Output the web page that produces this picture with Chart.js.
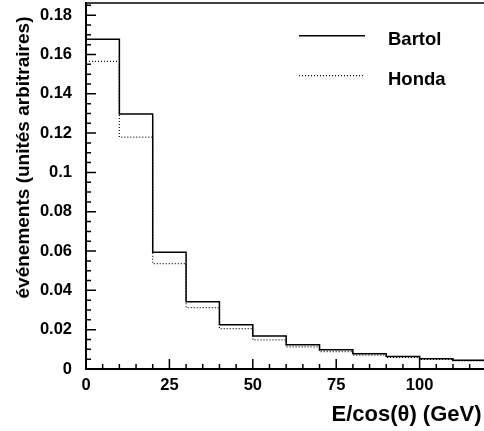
<!DOCTYPE html>
<html>
<head>
<meta charset="utf-8">
<script src="https://cdn.jsdelivr.net/npm/chart.js@4/dist/chart.umd.min.js"></script>
<style>
  html, body { margin: 0; padding: 0; background: #fff; overflow: hidden; }
</style>
</head>
<body>
<canvas id="histo" width="484" height="431"></canvas>
<script>
// bin edges (GeV) and contents of the two histograms
const binEdges = [0, 10, 20, 30, 40, 50, 60, 70, 80, 90, 100, 110, 120];
const bartol = [0.1677, 0.1297, 0.0594, 0.0342, 0.0225, 0.0168, 0.0124, 0.0098, 0.0078, 0.0064, 0.0052, 0.0044];
const honda  = [0.1565, 0.1180, 0.0536, 0.0312, 0.0205, 0.0148, 0.0113, 0.0088, 0.0071, 0.0059, 0.0049, 0.0041];
const xTickLabels = [0, 25, 50, 75, 100];
const yTickLabels = [0, 0.02, 0.04, 0.06, 0.08, 0.1, 0.12, 0.14, 0.16, 0.18];
const seriesNames = ['Bartol', 'Honda'];

const FONT = '"Liberation Sans", Arial, Helvetica, sans-serif';
Chart.defaults.font.family = FONT;
Chart.defaults.color = '#000';

function toSteps(vals) {
  const pts = vals.map((v, i) => ({ x: binEdges[i], y: v }));
  pts.push({ x: binEdges[binEdges.length - 1], y: vals[vals.length - 1] });
  return pts;
}

function noPad(s) {
  s.paddingTop = 0; s.paddingBottom = 0; s.paddingLeft = 0; s.paddingRight = 0;
}

// inward tick marks, top frame line, legend and axis titles
const decor = {
  id: 'decor',
  afterDraw(chart) {
    const ctx = chart.ctx;
    const a = chart.chartArea;
    const xs = chart.scales.x, ys = chart.scales.y;
    ctx.save();
    ctx.strokeStyle = '#000';
    ctx.lineWidth = 1.5;
    ctx.beginPath();
    for (let v = 0; v <= xs.max + 0.001; v += 5) {
      const px = xs.getPixelForValue(v);
      const len = v % 25 === 0 ? 10 : 5;
      ctx.moveTo(px, a.bottom);
      ctx.lineTo(px, a.bottom - len);
    }
    for (let k = 0; k * 0.005 <= ys.max + 1e-9; k++) {
      const py = ys.getPixelForValue(k * 0.005);
      const len = k % 4 === 0 ? 10 : 5;
      ctx.moveTo(a.left, py);
      ctx.lineTo(a.left + len, py);
    }
    ctx.stroke();
    // top frame
    ctx.beginPath();
    ctx.moveTo(a.left, a.top);
    ctx.lineTo(a.right, a.top);
    ctx.stroke();

    // legend
    chart.data.datasets.forEach((ds, i) => {
      const y = 35.7 + i * 40;
      ctx.save();
      ctx.strokeStyle = ds.borderColor;
      ctx.lineWidth = ds.borderWidth;
      ctx.setLineDash(ds.borderDash || []);
      ctx.beginPath();
      ctx.moveTo(299, y);
      ctx.lineTo(365, y);
      ctx.stroke();
      ctx.restore();
      ctx.fillStyle = '#000';
      ctx.font = 'bold 18.5px ' + FONT;
      ctx.textAlign = 'left';
      ctx.textBaseline = 'middle';
      ctx.fillText(ds.label, 388, y + 4);
    });

    // x title
    ctx.font = 'bold 22px ' + FONT;
    ctx.textAlign = 'right';
    ctx.textBaseline = 'middle';
    ctx.fillText('E/cos(θ) (GeV)', 481.5, 415);

    // y title
    ctx.translate(24, 157.5);
    ctx.rotate(-Math.PI / 2);
    ctx.font = 'bold 19px ' + FONT;
    ctx.textAlign = 'center';
    ctx.fillText('événements (unités arbitraires)', 0, 0);
    ctx.restore();
  }
};

new Chart(document.getElementById('histo'), {
  type: 'line',
  data: {
    datasets: [{
      label: seriesNames[0],
      data: toSteps(bartol),
      stepped: true,
      borderColor: '#000',
      borderWidth: 1.5,
      pointRadius: 0,
      fill: false
    }, {
      label: seriesNames[1],
      data: toSteps(honda),
      stepped: true,
      borderColor: '#111',
      borderWidth: 1.2,
      borderDash: [1, 2],
      pointRadius: 0,
      fill: false
    }]
  },
  options: {
    responsive: false,
    animation: false,
    layout: { padding: { top: 3, right: 0, left: 0, bottom: 0 } },
    plugins: { legend: { display: false }, tooltip: { enabled: false } },
    scales: {
      x: {
        type: 'linear',
        min: 0,
        max: 119.3,
        grid: { display: false },
        border: { display: true, color: '#000', width: 2 },
        afterBuildTicks: s => { s.ticks = xTickLabels.map(v => ({ value: v })); },
        afterFit: s => { s.height = 62; noPad(s); },
        ticks: {
          padding: -1,
          maxRotation: 0,
          font: { size: 16.5, weight: 'bold' },
          callback: v => String(v)
        }
      },
      y: {
        min: 0,
        max: 0.1862,
        grid: { display: false },
        border: { display: true, color: '#000', width: 2 },
        afterBuildTicks: s => { s.ticks = yTickLabels.map(v => ({ value: v })); },
        afterFit: s => { s.width = 86; noPad(s); },
        ticks: {
          padding: 6,
          font: { size: 16.5, weight: 'bold' },
          callback: v => String(v)
        }
      }
    }
  },
  plugins: [decor]
});
</script>
</body>
</html>
